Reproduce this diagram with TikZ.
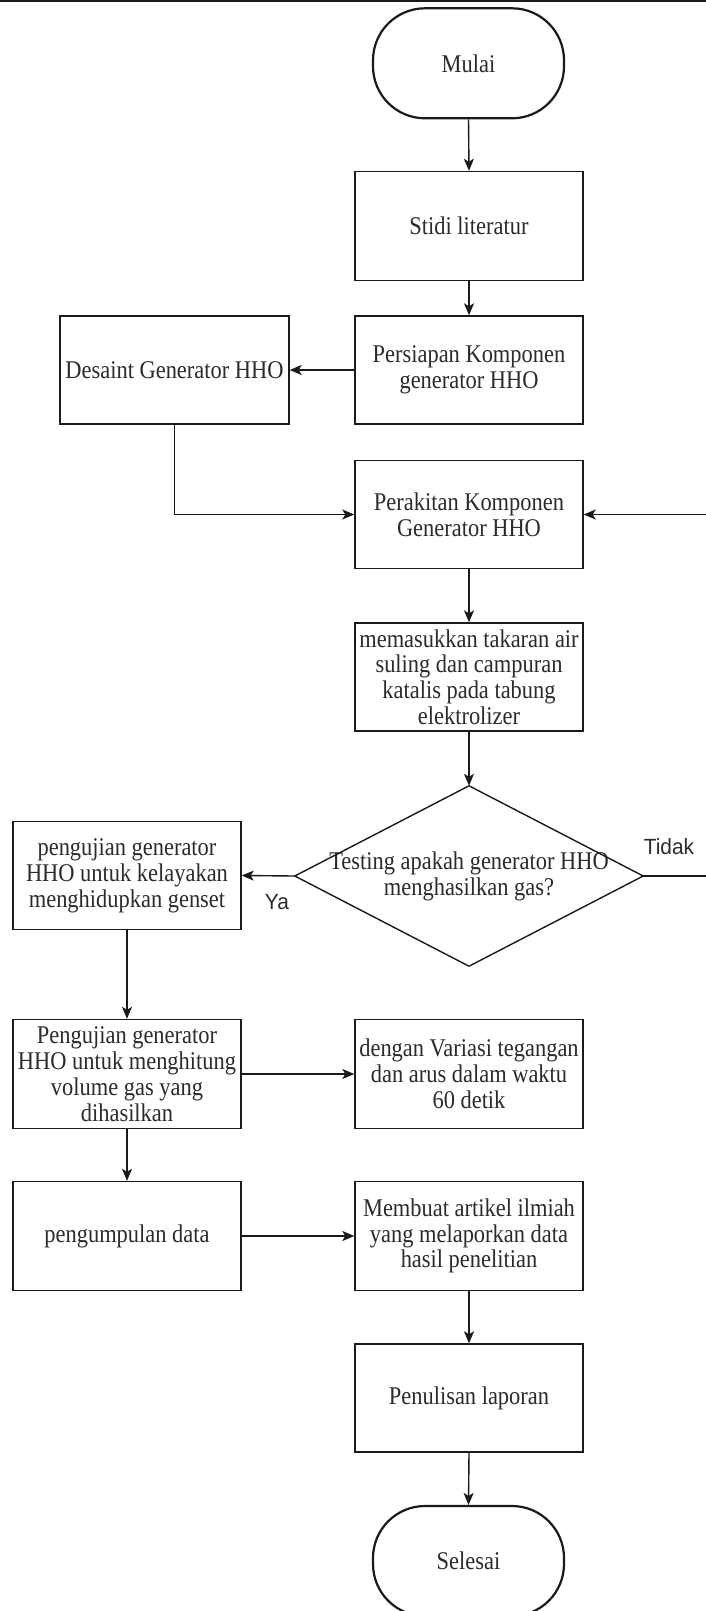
\documentclass[tikz,border=0pt]{standalone}
\usepackage{fontspec}
\setmainfont{Liberation Serif}[FakeStretch=0.88]
\newfontfamily\labfont{Liberation Sans}[FakeStretch=0.95]
\usetikzlibrary{arrows.meta}
\definecolor{linec}{HTML}{1A1A1A}
\definecolor{textc}{HTML}{2B2B2B}
\begin{document}
\begin{tikzpicture}[x=1pt,y=-1pt,
  box/.style={draw=linec, line width=1.4pt, rectangle, minimum width=228pt, minimum height=108pt,
    inner sep=0pt, align=center, font=\fontsize{25.5}{25.8}\selectfont, text=textc},
  term/.style={box, line width=2.2pt, minimum width=191pt, minimum height=110pt, rounded corners=52pt},
  plain/.style={rectangle, draw=none, minimum width=348pt, minimum height=180pt, inner sep=0pt,
    align=center, font=\fontsize{25.5}{25.8}\selectfont, text=textc},
  arr/.style={draw=linec, line width=1.4pt, -{Stealth[length=12pt,width=10pt,inset=3pt]}},
  conn/.style={draw=linec, line width=1.4pt},
  lab/.style={font=\labfont\fontsize{22}{24}\selectfont, text=textc, inner sep=0pt}]
\clip (0,0) rectangle (706,1611);
\fill[white] (0,0) rectangle (706,1611);
\coordinate (tl) at (0,1.5);
\coordinate (tr) at (706,1.5);
\draw[line width=2pt, color=linec] (tl) -- (tr);

\node[term] (mulai) at (468.5,63.3) {Mulai};
\node[box, minimum height=109pt] (stidi) at (469,226) {Stidi literatur};
\node[box] (persiapan) at (469,370) {Persiapan Komponen\\generator HHO};
\node[box, minimum width=229pt] (desaint) at (174.5,370) {Desaint Generator HHO};
\node[box] (perakitan) at (469,514.5) {Perakitan Komponen\\Generator HHO};
\node[box] (masuk) at (469,677) {memasukkan takaran air\\suling dan campuran\\katalis pada tabung\\elektrolizer};
\node[plain] (dia) at (469,876) {Testing apakah generator HHO\\menghasilkan gas?};
\draw[conn] (dia.north) -- (dia.east) -- (dia.south) -- (dia.west) -- cycle;
\node[box] (uji1) at (127,875.5) {pengujian generator\\HHO untuk kelayakan\\menghidupkan genset};
\node[box, minimum height=109pt] (uji2) at (127,1074) {Pengujian generator\\HHO untuk menghitung\\volume gas yang\\dihasilkan};
\node[box, minimum height=109pt] (dengan) at (469,1074) {dengan Variasi tegangan\\dan arus dalam waktu\\60 detik};
\node[box, minimum height=109pt] (kumpul) at (127,1236) {pengumpulan data};
\node[box, minimum height=109pt] (membuat) at (469,1236) {Membuat artikel ilmiah\\yang melaporkan data\\hasil penelitian};
\node[box] (tulis) at (469,1398) {Penulisan laporan};
\node[term] (selesai) at (468.5,1561) {Selesai};

\node[lab] (tidak) at (669,847) {Tidak};
\node[lab] (ya) at (277,902) {Ya};

\coordinate (edge) at (714,876);

\draw[arr] (mulai.south) -- (stidi.north);
\draw[arr] (stidi.south) -- (persiapan.north);
\draw[arr] (persiapan.west) -- (desaint.east);
\draw[arr] (desaint.south) |- (perakitan.west);
\draw[arr] (perakitan.south) -- (masuk.north);
\draw[arr] (masuk.south) -- (dia.north);
\draw[arr] (dia.west) -- (uji1.east);
\draw[arr] (dia.east) -- (edge) |- (perakitan.east);
\draw[arr] (uji1.south) -- (uji2.north);
\draw[arr] (uji2.east) -- (dengan.west);
\draw[arr] (uji2.south) -- (kumpul.north);
\draw[arr] (kumpul.east) -- (membuat.west);
\draw[arr] (membuat.south) -- (tulis.north);
\draw[arr] (tulis.south) -- (selesai.north);
\end{tikzpicture}
\end{document}
